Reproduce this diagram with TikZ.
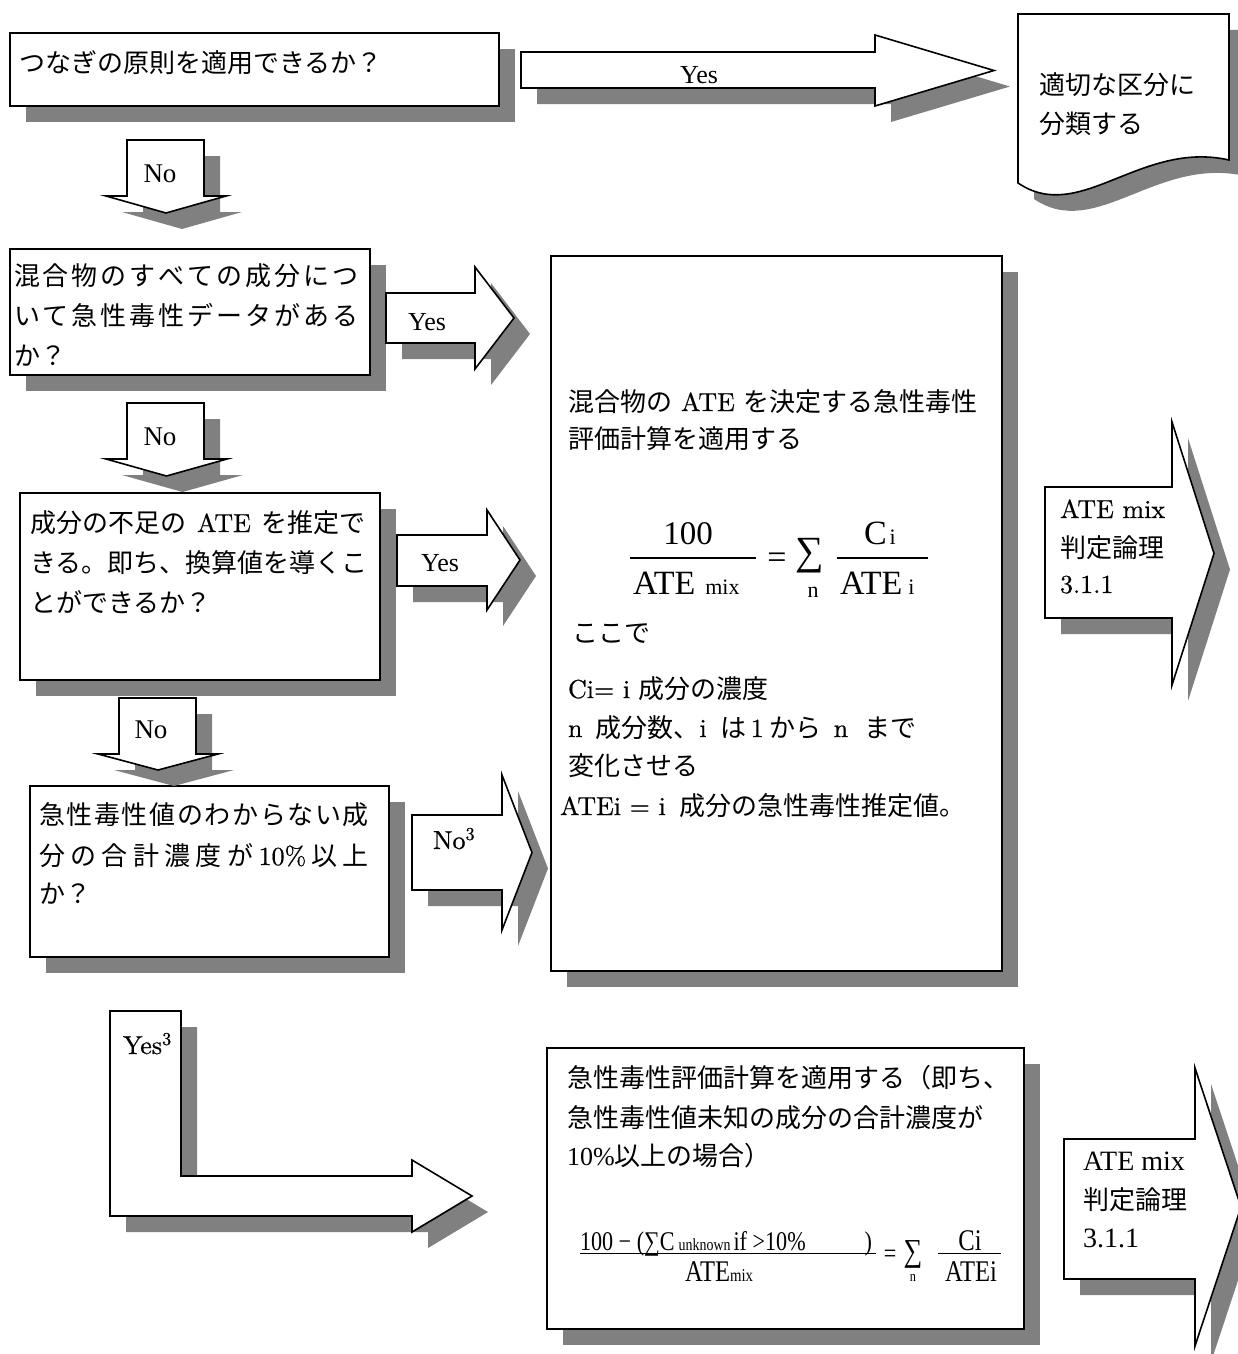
\documentclass[tikz,border=0pt]{standalone}
\usepackage{fontspec}
\usetikzlibrary{shadows}
\setmainfont{lmroman10-regular.otf}[FakeBold=0.6]
\newfontfamily\jp{Noto Sans CJK JP}
\newfontfamily\tms{Liberation Serif}
\newfontfamily\tmsn{Liberation Serif}[FakeStretch=0.82]
\definecolor{shadegray}{HTML}{808080}
\newcommand\fsz[1]{\fontsize{#1}{#1}\selectfont}
\makeatletter
\def\spr@endmark{\spr@end}
\newcommand\spreadline[2]{\hbox to #1{\spr@a#2\spr@end}}
\def\spr@a#1{\def\spr@tmp{#1}\ifx\spr@tmp\spr@endmark\unskip\else#1\hfil\expandafter\spr@a\fi}
\makeatother
% right block arrow: x0, shaft top, shaft bottom, head x, head top, head bottom, tip x
\newcommand\rarrowpath[7]{(#1,#2) -- (#4,#2) -- (#4,#5) -- (#7,{(#5+#6)/2}) -- (#4,#6) -- (#4,#3) -- (#1,#3) -- cycle}
% down block arrow: shaft left, shaft right, top, head y, head left, head right, tip y
\newcommand\darrowpath[7]{(#1,#3) -- (#2,#3) -- (#2,#4) -- (#6,#4) -- ({(#5+#6)/2},#7) -- (#5,#4) -- (#1,#4) -- cycle}
\newcommand\RA[7]{\fill[shd,shift={(16,16)}] \rarrowpath{#1}{#2}{#3}{#4}{#5}{#6}{#7};
  \filldraw[shp] \rarrowpath{#1}{#2}{#3}{#4}{#5}{#6}{#7};}
\newcommand\DA[7]{\fill[shd,shift={(16,16)}] \darrowpath{#1}{#2}{#3}{#4}{#5}{#6}{#7};
  \filldraw[shp] \darrowpath{#1}{#2}{#3}{#4}{#5}{#6}{#7};}
\tikzset{
  shd/.style={fill=shadegray, draw=none},
  shp/.style={fill=white, draw=black, line width=1.6pt, line join=miter},
  box/.style={draw=black, fill=white, line width=1.6pt, inner sep=0pt, outer sep=0pt,
    anchor=north west,
    drop shadow={shadow xshift=16pt, shadow yshift=-16pt, fill=shadegray, opacity=1}},
  txt/.style={inner sep=0pt, outer sep=0pt, anchor=base west, font=\fsz{26}},
  bar/.style={line width=1.3pt}
}
\begin{document}
\begin{tikzpicture}[x=1pt, y=-1pt]
\useasboundingbox (0,0) rectangle (1238,1354);

% ---------- boxes ----------
\node[box, minimum width=489pt, minimum height=73pt] (q1) at (10,33) {};
\node[box, minimum width=360pt, minimum height=126pt] (q2) at (10,249) {};
\node[box, minimum width=360pt, minimum height=187pt] (q3) at (20,493) {};
\node[box, minimum width=359pt, minimum height=171pt] (q4) at (30,786) {};
\node[box, minimum width=451pt, minimum height=715pt] (calc) at (551,256) {};
\node[box, minimum width=477pt, minimum height=281pt] (calc2) at (547,1048) {};

% document shape
\fill[shd, shift={(16,16)}] (1018,14) -- (1229,14) -- (1229,160) .. controls (1140,140) and (1080,225) .. (1018,183) -- cycle;
\filldraw[shp] (1018,14) -- (1229,14) -- (1229,160) .. controls (1140,140) and (1080,225) .. (1018,183) -- cycle;

% ---------- block arrows ----------
\RA{521}{52}{88}{875}{35}{106}{994}
\DA{127}{204}{140}{196}{106}{226}{213}
\RA{386}{293}{343}{475}{267}{369}{514}
\DA{127}{204}{403}{459}{106}{227}{476}
\RA{397}{535}{586}{487}{510}{610}{520}
\DA{119}{196}{698}{754}{98}{218}{770}
\RA{412}{815}{890}{502}{775}{930}{532}
\RA{1045}{487}{618}{1172}{422}{685}{1214}
\RA{1064}{1139}{1279}{1195}{1068}{1346}{1241}
% L-shaped arrow
\fill[shd, shift={(16,16)}] (110,1011) -- (181,1011) -- (181,1176) -- (412,1176) -- (412,1160) -- (472,1196) -- (412,1232) -- (412,1216) -- (110,1216) -- cycle;
\filldraw[shp] (110,1011) -- (181,1011) -- (181,1176) -- (412,1176) -- (412,1160) -- (472,1196) -- (412,1232) -- (412,1216) -- (110,1216) -- cycle;

% ---------- texts ----------
\node[txt] (t1) at (19,72) {\jp つなぎの原則を適用できるか？};
\node[txt, anchor=base, font=\tms\fsz{26}] (yes1) at (699,83) {Yes};
\node[txt] (doc1) at (1039,94) {\jp 適切な区分に};
\node[txt] (doc2) at (1039,133) {\jp 分類する};
\node[txt, anchor=base, font=\tms\fsz{27}] (no1) at (160,182) {No};

\node[txt] (t2a) at (14,285) {\jp\spreadline{345pt}{混合物のすべての成分につ}};
\node[txt] (t2b) at (14,325) {\jp\spreadline{345pt}{いて急性毒性データがある}};
\node[txt] (t2c) at (14,365) {\jp か？};
\node[txt, anchor=base, font=\tms\fsz{26}] (yes2) at (427,330) {Yes};
\node[txt, anchor=base, font=\tms\fsz{27}] (no2) at (160,445) {No};

\node[txt] (t3a) at (30,532) {{\jp 成分の不足の}\hspace{11pt}ATE\hspace{11pt}{\jp を推定で}};
\node[txt] (t3b) at (30,572) {\jp きる。即ち、換算値を導くこ};
\node[txt] (t3c) at (30,612) {\jp とができるか？};
\node[txt, anchor=base, font=\tms\fsz{26}] (yes3) at (440,571) {Yes};
\node[txt, anchor=base, font=\tms\fsz{27}] (no3) at (151,738) {No};

\node[txt] (t4a) at (39,824) {\jp\spreadline{330pt}{急性毒性値のわからない成}};
\node[txt] (t4b) at (39,865) {\jp\spreadline{330pt}{分の合計濃度が{{\rmfamily 10\%}}以上}};
\node[txt] (t4c) at (39,903) {\jp か？};
\node[txt] (no4) at (433,849) {No\textsuperscript{3}};

% main calculation box
\node[txt] (c1) at (568,411) {{\jp 混合物の}\hspace{9pt}ATE\hspace{9pt}{\jp を決定する急性毒性}};
\node[txt] (c2) at (568,448) {\jp 評価計算を適用する};
\node[txt, anchor=base, font=\tms\fsz{33}] (f1n) at (688,544) {100};
\draw[bar] (630,558) -- (756,558);
\node[txt, font=\tms\fsz{34}] (f1d) at (633,594) {ATE\hspace{10pt}{\fsz{22}mix}};
\node[txt, anchor=base, font=\tms\fsz{34}] (f1eq) at (777,568) {=};
\node[txt, anchor=center, font=\tms\fsz{40}] (f1sum) at (810,556) {∑};
\node[txt, anchor=base, font=\tms\fsz{22}] (f1idx) at (813,597) {n};
\draw[bar] (837,558) -- (928,558);
\node[txt, font=\tms\fsz{34}] (f1c) at (864,544) {C\hspace{3pt}{\fsz{22}i}};
\node[txt, font=\tms\fsz{34}] (f1a) at (840,594) {ATE\hspace{6pt}{\fsz{22}i}};
\node[txt] (c3) at (572,642) {\jp ここで};
\node[txt] (c4) at (568,698) {Ci= i {\jp 成分の濃度}};
\node[txt] (c5) at (568,737) {n\hspace{13pt}{\jp 成分数、}i\hspace{14pt}{\jp は}\hspace{4pt}1\hspace{6pt}{\jp から}\hspace{12pt}n\hspace{16pt}{\jp まで}};
\node[txt] (c6) at (568,775) {\jp 変化させる};
\node[txt] (c7) at (560,815) {ATEi = i\hspace{14pt}{\jp 成分の急性毒性推定値。}};

% ATE mix arrow 1 text
\node[txt] (m1a) at (1060,518) {ATE mix};
\node[txt] (m1b) at (1060,557) {\jp 判定論理};
\node[txt] (m1c) at (1060,593) {3.1.1};

% L arrow label
\node[txt] (yes4) at (123,1054) {Yes\textsuperscript{3}};

% lower calculation box
\node[txt] (d1) at (567,1087) {\jp 急性毒性評価計算を適用する（即ち、};
\node[txt] (d2) at (567,1127) {\jp 急性毒性値未知の成分の合計濃度が};
\node[txt] (d3) at (567,1165) {{\tms 10\%}{\jp 以上の場合）}};
\node[txt, font=\tmsn\fsz{27}] (f2n) at (580,1250) {\hbox to 292pt{100 − (∑C\hspace{4pt}{\fsz{17}unknown}\hspace{3pt}if >10\%\hfill)}};
\draw[line width=1pt] (580,1253) -- (876,1253);
\node[txt, font=\tmsn\fsz{30}] (f2d) at (685,1281) {ATE{\fsz{18}mix}};
\node[txt, anchor=base, font=\tmsn\fsz{27}] (f2eq) at (890,1262) {=};
\node[txt, anchor=center, font=\tmsn\fsz{32}] (f2sum) at (913,1254) {∑};
\node[txt, anchor=base, font=\tmsn\fsz{15}] (f2idx) at (913,1281) {n};
\draw[line width=1pt] (938,1253) -- (1001,1253);
\node[txt, anchor=base, font=\tmsn\fsz{30}] (f2c) at (970,1250) {Ci};
\node[txt, anchor=base, font=\tmsn\fsz{30}] (f2a) at (971,1281) {ATEi};

% ATE mix arrow 2 text
\node[txt, font=\tms\fsz{28}] (m2a) at (1083,1170) {ATE mix};
\node[txt] (m2b) at (1083,1209) {\jp 判定論理};
\node[txt, font=\tms\fsz{28}] (m2c) at (1083,1247) {3.1.1};
\end{tikzpicture}
\end{document}
